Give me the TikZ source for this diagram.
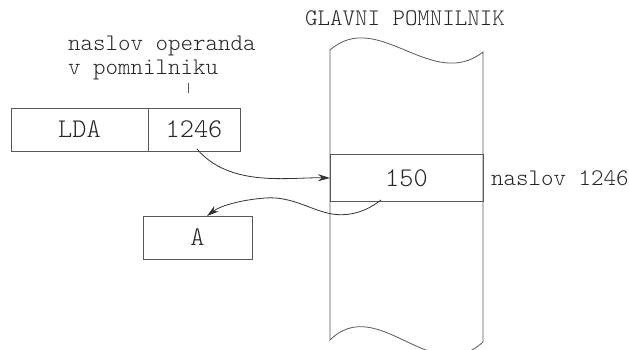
\documentclass[tikz,border=0pt]{standalone}
\usepackage{fontspec}
\newfontfamily\monolight{Latin Modern Mono Light}
\usetikzlibrary{arrows.meta}
\definecolor{ln}{gray}{0.35}
\definecolor{tx}{gray}{0.15}
\tikzset{
  box/.style={draw=ln, line width=0.8pt, minimum height=43pt, inner sep=0pt, text=tx, font=\monolight\fontsize{27}{31}\selectfont},
  lbl/.style={text=tx, inner sep=0pt, font=\monolight\fontsize{23.8}{28}\selectfont},
  big/.style={text=tx, inner sep=0pt, font=\monolight\fontsize{27}{31}\selectfont},
  edge/.style={draw=ln, line width=0.8pt},
  arr/.style={edge, -{Stealth[length=12pt,width=7pt]}, black!80}
}
\begin{document}
\begin{tikzpicture}[x=1pt,y=-1pt]
\useasboundingbox (0,0) rectangle (629,349);
% memory column
\draw[edge] (330,50) .. controls (378,8) and (432,92) .. (483,52)
  -- (483,342) .. controls (432,389) and (378,293) .. (330,340) -- cycle;
\node[box, minimum width=153pt, minimum height=47pt] (cell) at (406.5,177.5) {};
\node[big] (v150) at (406.5,178) {150};
\node[lbl, anchor=center] (title) at (405,18) {GLAVNI POMNILNIK};
\node[lbl, anchor=west] (addr) at (491,178) {naslov 1246};
% instruction
\node[box, minimum width=137pt] (lda) at (79.5,129.5) {LDA};
\node[box, minimum width=92pt] (opnd) at (194,129.5) {1246};
\node[lbl, anchor=west] (l1) at (68,46) {naslov operanda};
\node[lbl, anchor=west] (l2) at (68,70) {v pomnilniku};
\coordinate (t1) at (188,83);
\coordinate (t2) at (188,93);
\draw[edge] (t1) -- (t2);
% register A
\node[box, minimum width=109pt] (regA) at (197.5,237.5) {A};
% arrows
\coordinate (s1) at (197,149);
\coordinate (e1) at (330,178);
\draw[arr] (s1) .. controls (230,188) and (290,177) .. (e1);
\coordinate (s2) at (381,200);
\coordinate (m2) at (332,214);
\coordinate (p2) at (265,198);
\coordinate (e2) at (207,216);
\draw[arr] (s2) .. controls (368,210) and (352,217) .. (m2)
  .. controls (310,210) and (292,196) .. (p2)
  .. controls (240,200) and (220,206) .. (e2);
\end{tikzpicture}
\end{document}
